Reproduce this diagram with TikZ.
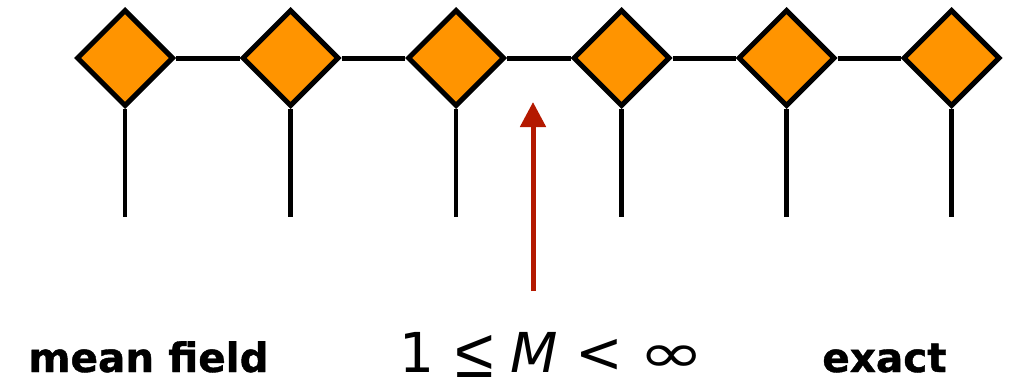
\documentclass[tikz,border=0pt]{standalone}
\usepackage{fontspec}
\usepackage{graphicx}
\setmainfont{DejaVu Sans}
\newfontfamily\heavy[FakeBold=1]{DejaVu Sans}
\newfontfamily\lsans{Liberation Sans}
\usetikzlibrary{shapes.geometric,arrows.meta}
\definecolor{tensororange}{RGB}{255,148,0}
\definecolor{arrowred}{RGB}{180,25,0}
\tikzset{
  tensor/.style={diamond, aspect=1, draw=black, fill=tensororange, line width=5pt, minimum size=97pt, inner sep=0pt},
  bond/.style={draw=black, line width=5pt},
  leg/.style={draw=black, line width=4.5pt},
  pointer/.style={draw=arrowred, line width=5pt, -{Triangle[width=25pt,length=25pt]}},
  lbl/.style={anchor=base, inner sep=0pt, font=\heavy\bfseries\fontsize{40.5pt}{48pt}\selectfont},
  mathlbl/.style={anchor=base west, inner sep=0pt, font=\fontsize{55pt}{60pt}\selectfont}
}
\begin{document}
\begin{tikzpicture}[x=1pt,y=-1pt]
\useasboundingbox (0,0) rectangle (1018,380);
\foreach \i/\x in {1/125,2/290.5,3/456,4/621.5,5/786.5,6/951.5}{
  \node[tensor] (t\i) at (\x,58) {};
  \coordinate (f\i) at (\x,217);
}
\foreach \i in {1,...,6}{
  \draw[leg] (t\i.south) -- (f\i);
}
\foreach \i/\j in {1/2,2/3,3/4,4/5,5/6}{
  \draw[bond] (t\i.east) -- (t\j.west);
}
\coordinate (as) at (533,291);
\coordinate (ae) at (533,102);
\draw[pointer] (as) -- (ae);
\node[lbl] (mf) at (148.5,372) {mean field};
\node[mathlbl] (rng) at (399,372) {1\hspace{21pt}\raisebox{-5pt}{\lsans\fontsize{70pt}{74pt}\selectfont ≤}\hspace{17pt}\textit{M}\hspace{17pt}{\fontsize{57pt}{60pt}\selectfont <}\hspace{16pt}\scalebox{1.45}[1.0]{∞}};
\node[lbl] (ex) at (884.5,372) {exact};
\end{tikzpicture}
\end{document}
